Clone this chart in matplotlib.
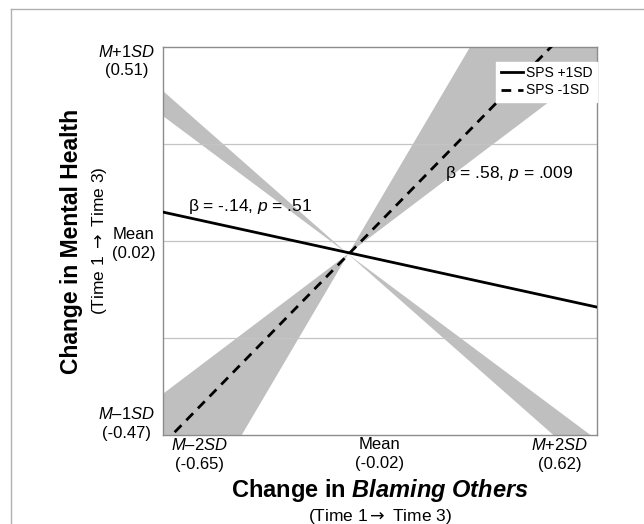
import matplotlib
matplotlib.use("Agg")
import matplotlib.pyplot as plt
from matplotlib.lines import Line2D

plt.rcParams["font.family"] = ["Liberation Sans", "DejaVu Sans"]
plt.rcParams["mathtext.fontset"] = "custom"
plt.rcParams["mathtext.rm"] = "Liberation Sans"
plt.rcParams["mathtext.it"] = "Liberation Sans:italic"
plt.rcParams["mathtext.bf"] = "Liberation Sans:bold"
plt.rcParams["mathtext.bfit"] = "Liberation Sans:italic:bold"
plt.rcParams["mathtext.sf"] = "DejaVu Sans"

# x positions of the plotted range (M-2SD .. M+2SD of blaming-others change)
x_ends = [-0.65, 0.62]
x_tick_names = ["$\\mathit{M}$\u20132$\\mathit{SD}$", "Mean", "$\\mathit{M}$+2$\\mathit{SD}$"]
x_tick_nums = ["(-0.65)", "(-0.02)", "(0.62)"]

# y axis (mental health change)
y_tick_vals = [-0.47, 0.02, 0.51]
y_tick_names = ["$\\mathit{M}$\u20131$\\mathit{SD}$", "Mean", "$\\mathit{M}$+1$\\mathit{SD}$"]
y_tick_nums = ["(-0.47)", "(0.02)", "(0.51)"]
y_grid_vals = [-0.225, 0.02, 0.265]

# simple slopes, values at the two x ends
sps_high = [0.093, -0.147]
sps_low = [-0.493, 0.629]

# grey bands (edges at the two x ends)
band_low_a = [-0.808, 1.055]
band_low_b = [-0.366, 0.463]
band_high_a = [0.399, -0.567]
band_high_b = [0.336, -0.482]

fig = plt.figure(figsize=(6.44, 5.24), dpi=100)
ax = fig.add_axes([163 / 644, 1 - 435 / 524, 434 / 644, 388 / 524])

grey = "#bfbfbf"
ax.fill_between(x_ends, band_high_a, band_high_b, color=grey, lw=0, zorder=1)
ax.fill_between(x_ends, band_low_a, band_low_b, color=grey, lw=0, zorder=1)

for g in y_grid_vals:
    ax.axhline(g, color="#c4c4c4", lw=0.9, zorder=2)

ax.plot(x_ends, sps_high, color="black", lw=2, zorder=3, label="SPS +1SD")
ax.plot(x_ends, sps_low, color="black", lw=2, ls=(0, (3.5, 2.5)), zorder=3,
        label="SPS -1SD")

ax.set_xlim(x_ends)
ax.set_ylim(y_tick_vals[0], y_tick_vals[-1])
ax.set_xticks([])
ax.set_yticks([])
for s in ax.spines.values():
    s.set_color("#8c8c8c")
    s.set_linewidth(1)

# slope annotations
ax.text(-0.577, 0.108, "\u03b2 = -.14, $\\mathit{p}$ = .51", fontsize=12.5, va="center")
ax.text(0.175, 0.19, "\u03b2 = .58, $\\mathit{p}$ = .009", fontsize=12.5, va="center")

leg = ax.legend(loc="upper right", bbox_to_anchor=(1.0, 0.962), fontsize=10,
                handlelength=1.6, handletextpad=0.25, borderpad=0.3,
                labelspacing=0.25, frameon=True, fancybox=False, borderaxespad=0)
leg.get_frame().set_edgecolor("white")
leg.get_frame().set_alpha(1)

# y tick labels
yt = ax.get_yaxis_transform()
lab = dict(ha="right", multialignment="center", fontsize=12, linespacing=1.3)
ax.text(-0.018, y_tick_vals[2] + 0.008, y_tick_names[2] + "\n" + y_tick_nums[2],
        transform=yt, va="top", **lab)
ax.text(-0.018, y_tick_vals[1] - 0.008, y_tick_names[1] + "\n" + y_tick_nums[1],
        transform=yt, va="center", **lab)
ax.text(-0.018, y_tick_vals[0] - 0.014, y_tick_names[0] + "\n" + y_tick_nums[0],
        transform=yt, va="bottom", **lab)

# x tick labels
x_pos = [0.085, 0.5, 0.915]
for xp, name, num in zip(x_pos, x_tick_names, x_tick_nums):
    ax.text(xp, -0.006, name + "\n" + num, transform=ax.transAxes, ha="center",
            va="top", multialignment="center", fontsize=12, linespacing=1.3)

# axis titles
arrow = "$\\mathsf{\\rightarrow}$"
fig.text(380 / 644, 1 - 491 / 524, "Change in $\\mathbfit{Blaming\\ Others}$",
         ha="center", va="center", fontsize=17, fontweight="bold")
fig.text(380 / 644, 1 - 516 / 524, "(Time 1" + arrow + " Time 3)", ha="center",
         va="center", fontsize=12.5)
fig.text(72 / 644, 1 - 241 / 524, "Change in Mental Health", rotation=90,
         ha="center", va="center", fontsize=16.5, fontweight="bold")
fig.text(100 / 644, 1 - 241 / 524, "(Time 1 " + arrow + " Time 3)", rotation=90,
         ha="center", va="center", fontsize=12.5)

# outer frame (left and top edges)
fig.add_artist(Line2D([11 / 644, 11 / 644], [0, 1 - 9 / 524], color="#b0b0b0", lw=1))
fig.add_artist(Line2D([11 / 644, 1], [1 - 9 / 524, 1 - 9 / 524], color="#b0b0b0", lw=1))

fig.savefig("out.png", dpi=100)
